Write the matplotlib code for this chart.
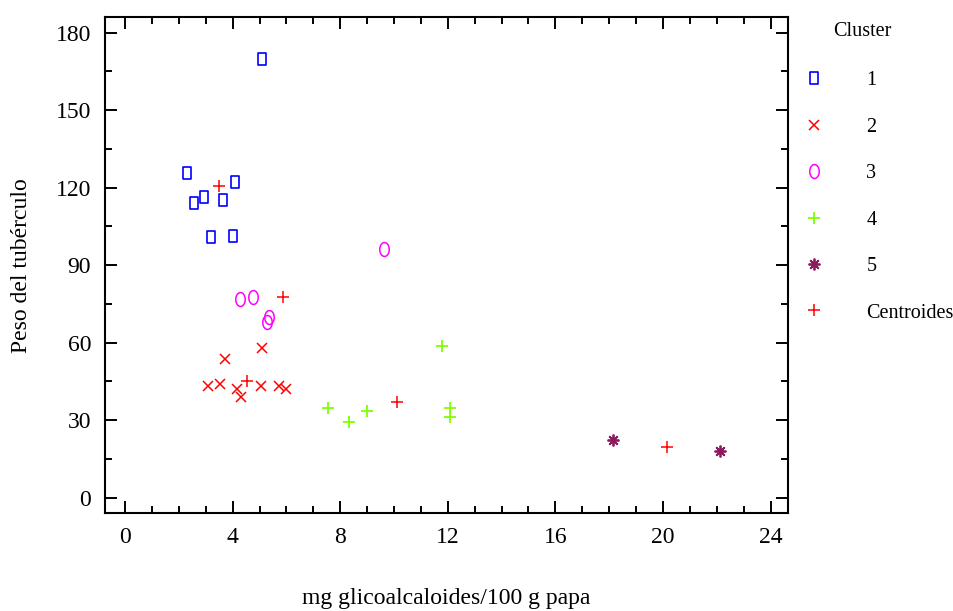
import numpy as np
import matplotlib
matplotlib.use("Agg")
import matplotlib.pyplot as plt
from matplotlib.path import Path
from matplotlib.lines import Line2D

plt.rcParams["font.family"] = ["Liberation Serif", "DejaVu Serif"]

# cluster members: mg glicoalcaloides/100 g papa vs peso del tubérculo
c1_x = [5.09, 2.31, 2.56, 2.94, 3.65, 4.09, 3.18, 4.01]
c1_y = [169.9, 125.7, 114.0, 116.4, 115.4, 122.0, 101.0, 101.4]
c2_x = [3.73, 5.10, 3.10, 3.53, 4.15, 4.32, 5.07, 5.72, 5.99]
c2_y = [53.6, 58.1, 43.3, 44.0, 42.2, 39.0, 43.1, 43.3, 42.2]
c3_x = [4.28, 4.77, 5.36, 5.29, 9.63]
c3_y = [77.1, 77.6, 70.0, 67.9, 96.2]
c4_x = [11.78, 7.54, 8.34, 9.00, 12.07, 12.07]
c4_y = [58.8, 34.6, 29.5, 33.6, 34.9, 31.4]
c5_x = [18.13, 22.12]
c5_y = [22.4, 17.9]
cent_x = [3.49, 4.52, 5.88, 10.11, 20.14]
cent_y = [120.5, 45.2, 77.6, 37.1, 19.7]

labels = ["1", "2", "3", "4", "5", "Centroides"]

# tall rectangle / tall ellipse markers like the original
rect = Path([(-0.62, -1), (0.62, -1), (0.62, 1), (-0.62, 1), (-0.62, -1)],
            [Path.MOVETO, Path.LINETO, Path.LINETO, Path.LINETO, Path.CLOSEPOLY])
t = np.linspace(0, 2 * np.pi, 60)
ell = Path(np.column_stack([0.68 * np.cos(t), np.sin(t)]))

styles = [
    dict(marker=rect, color="#0000FF", ms=8.5, mfc="none", mew=1.2),
    dict(marker="x", color="#FF0000", ms=6.5, mew=1.1),
    dict(marker=ell, color="#FF00FF", ms=10, mfc="none", mew=1.1),
    dict(marker="+", color="#7FFF00", ms=8.5, mew=1.3),
    dict(marker=(8, 2, 0), color="#8B1A5E", ms=8.5, mew=1.3),
    dict(marker="+", color="#FF0000", ms=8.5, mew=1.1),
]
series = [(c1_x, c1_y), (c2_x, c2_y), (c3_x, c3_y), (c4_x, c4_y), (c5_x, c5_y), (cent_x, cent_y)]

fig = plt.figure(figsize=(9.54, 6.11), dpi=100)
ax = fig.add_axes([0.110, 0.160, 0.716, 0.812])

handles = []
for (xs, ys), st, lab in zip(series, styles, labels):
    ax.plot(xs, ys, ls="none", **st)
    handles.append(Line2D([], [], ls="none", **st))

ax.set_xlim(-0.75, 24.65)
ax.set_ylim(-6, 186)
ax.set_xticks(np.arange(0, 25, 4))
ax.set_xticks(np.arange(0, 25, 1), minor=True)
ax.set_yticks(np.arange(0, 181, 30))
ax.set_yticks(np.arange(0, 181, 15), minor=True)
ax.tick_params(which="both", direction="in", top=True, right=True, width=1.4,
               labelsize=17, pad=10)
ax.tick_params(which="major", length=8.5)
ax.tick_params(which="minor", length=5)
for s in ax.spines.values():
    s.set_linewidth(1.5)

ax.set_xlabel("mg glicoalcaloides/100 g papa", fontsize=17, labelpad=29)
ax.set_ylabel("Peso del tubérculo", fontsize=17, labelpad=17)

fig.text(833 / 954, 1 - 32 / 611, "Cluster", fontsize=14.5, ha="left", va="center")
fig.legend(handles, labels, loc="upper left", bbox_to_anchor=(804 / 954, 1 - 71 / 611),
           frameon=False, fontsize=14.5, handlelength=1.0, handletextpad=2.1,
           labelspacing=1.36, borderpad=0, borderaxespad=0)

fig.savefig("out.png", dpi=100)
